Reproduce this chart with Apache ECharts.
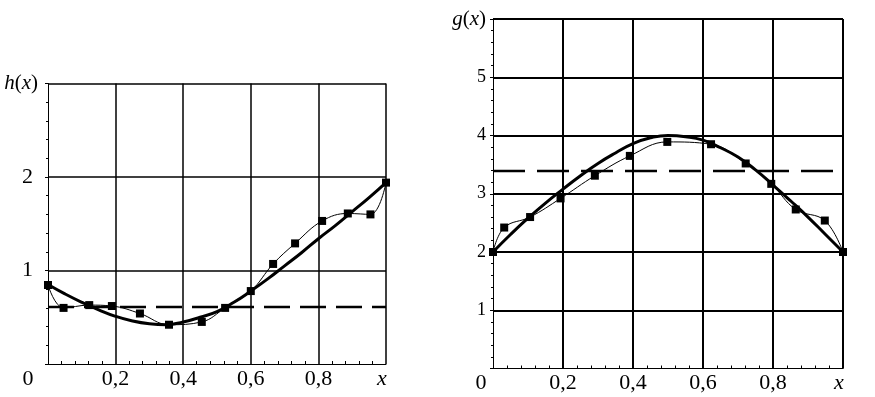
<!DOCTYPE html>
<html>
<head>
<meta charset="utf-8">
<script src="https://cdn.jsdelivr.net/npm/echarts@6/dist/echarts.min.js"></script>
<style>
html,body{margin:0;padding:0;background:#fff;}
#c{width:875px;height:397px;}
</style>
</head>
<body>
<div id="c"></div>
<script>
// ---- Left chart: h(x) ----
const hPointX = [0, 0.046, 0.122, 0.189, 0.272, 0.358, 0.455, 0.524, 0.6, 0.666, 0.731, 0.811, 0.887, 0.954, 1.0];
const hPointY = [0.845, 0.6, 0.63, 0.62, 0.54, 0.42, 0.45, 0.6, 0.78, 1.07, 1.29, 1.53, 1.61, 1.6, 1.94];
const hCurveX = [0, 0.05, 0.1, 0.15, 0.2, 0.25, 0.3, 0.35, 0.4, 0.45, 0.5, 0.55, 0.6, 0.65, 0.7, 0.75, 0.8, 0.85, 0.9, 0.95, 1.0];
const hCurveY = [0.85, 0.75, 0.66, 0.58, 0.51, 0.46, 0.43, 0.42, 0.45, 0.5, 0.56, 0.66, 0.78, 0.91, 1.05, 1.19, 1.34, 1.48, 1.63, 1.78, 1.94];
const hMean = 0.61;
const hYMax = 3;

// ---- Right chart: g(x) ----
const gPointX = [0, 0.032, 0.106, 0.193, 0.291, 0.391, 0.498, 0.623, 0.722, 0.795, 0.865, 0.948, 1.0];
const gPointY = [2.0, 2.42, 2.6, 2.92, 3.31, 3.65, 3.89, 3.85, 3.52, 3.17, 2.73, 2.54, 2.0];
const gCurveX = [0, 0.05, 0.1, 0.15, 0.2, 0.25, 0.3, 0.35, 0.4, 0.45, 0.5, 0.55, 0.6, 0.65, 0.7, 0.75, 0.8, 0.85, 0.9, 0.95, 1.0];
const gCurveY = [2.0, 2.3, 2.58, 2.84, 3.08, 3.31, 3.52, 3.7, 3.86, 3.96, 4.0, 3.98, 3.92, 3.79, 3.63, 3.41, 3.15, 2.88, 2.6, 2.3, 2.0];
const gMean = 3.39;
const gYMax = 6;

const xTicks = {0: '0', 0.2: '0,2', 0.4: '0,4', 0.6: '0,6', 0.8: '0,8', 1: 'x'};

const FONT = 'Liberation Serif';
const zip = (xs, ys) => xs.map((x, i) => [x, ys[i]]);

function xAxisCfg(gi, zeroShift, gridW) {
  return {
    type: 'value', gridIndex: gi, min: 0, max: 1, interval: 0.2,
    axisLine: {show: true, onZero: false, lineStyle: {color: '#000', width: 1}},
    axisTick: {show: false, inside: true},
    minorTick: {show: true, splitNumber: 5, length: 3, lineStyle: {color: '#000', width: 1}},
    splitLine: {show: true, showMinLine: false, lineStyle: {color: '#000', width: gridW}},
    axisLabel: {
      margin: 4,
      fontFamily: FONT, fontSize: 22, color: '#000',
      formatter: function (v) {
        const k = Math.round(v * 10) / 10;
        if (k === 0) return '{o|0}';
        if (k === 1) return '{i|x}';
        return xTicks[k];
      },
      rich: {
        o: {fontFamily: FONT, fontSize: 22, color: '#000', padding: [0, zeroShift * 2, 0, 0]},
        i: {fontFamily: FONT, fontSize: 22, color: '#000', fontStyle: 'italic', padding: [0, 8, 0, 0]}
      }
    }
  };
}

function yAxisCfg(gi, max, name, digitSize, margin, digitPad, gridW) {
  return {
    type: 'value', gridIndex: gi, min: 0, max: max, interval: 1,
    axisLine: {show: true, onZero: false, lineStyle: {color: '#000', width: 1}},
    axisTick: {show: true, length: 3, lineStyle: {color: '#000', width: 1}},
    minorTick: {show: true, splitNumber: 5, length: 2, lineStyle: {color: '#000', width: 1}},
    splitLine: {show: true, showMinLine: false, lineStyle: {color: '#000', width: gridW}},
    axisLabel: {
      margin: margin,
      fontFamily: FONT, fontSize: digitSize, color: '#000',
      formatter: function (v) {
        if (v === 0) return '';
        if (v === max) return '{n|' + name + '}{p|(}{n|x}{p|)}';
        return '{d|' + v + '}';
      },
      rich: {
        d: {fontFamily: FONT, fontSize: digitSize, color: '#000', padding: [0, digitPad, 0, 0]},
        n: {fontFamily: FONT, fontSize: 21, color: '#000', fontStyle: 'italic'},
        p: {fontFamily: FONT, fontSize: 21, color: '#000'}
      }
    }
  };
}

function seriesFor(gi, px, py, cx, cy, mean, thick, dash) {
  return [
    {
      type: 'line', xAxisIndex: gi, yAxisIndex: gi,
      data: [[0, mean], [1, mean]],
      symbol: 'none', silent: true, z: 2,
      lineStyle: {color: '#000', width: 2.5, type: dash}
    },
    {
      type: 'line', xAxisIndex: gi, yAxisIndex: gi,
      data: zip(px, py), smooth: 0.4,
      symbol: 'none', z: 3,
      lineStyle: {color: '#000', width: 1}
    },
    {
      type: 'line', xAxisIndex: gi, yAxisIndex: gi,
      data: zip(cx, cy), smooth: 0.5,
      symbol: 'none', z: 4,
      lineStyle: {color: '#000', width: thick}
    },
    {
      type: 'scatter', xAxisIndex: gi, yAxisIndex: gi,
      data: zip(px, py),
      symbol: 'rect', symbolSize: 8, z: 5,
      itemStyle: {color: '#000', opacity: 1}
    }
  ];
}

const chart = echarts.init(document.getElementById('c'), null, {renderer: 'canvas'});
chart.setOption({
  animation: false,
  backgroundColor: '#fff',
  grid: [
    {left: 48, right: 489, top: 83.5, bottom: 33},
    {left: 493, right: 32, top: 19, bottom: 28.5}
  ],
  xAxis: [xAxisCfg(0, 20, 1.5), xAxisCfg(1, 12, 2)],
  yAxis: [
    yAxisCfg(0, hYMax, 'h', 22, 10, 5, 1.5),
    yAxisCfg(1, gYMax, 'g', 18, 7, 0, 2)
  ],
  series: [].concat(
    seriesFor(0, hPointX, hPointY, hCurveX, hCurveY, hMean, 3, [26, 10]),
    seriesFor(1, gPointX, gPointY, gCurveX, gCurveY, gMean, 3, [32, 12])
  )
});
</script>
</body>
</html>
